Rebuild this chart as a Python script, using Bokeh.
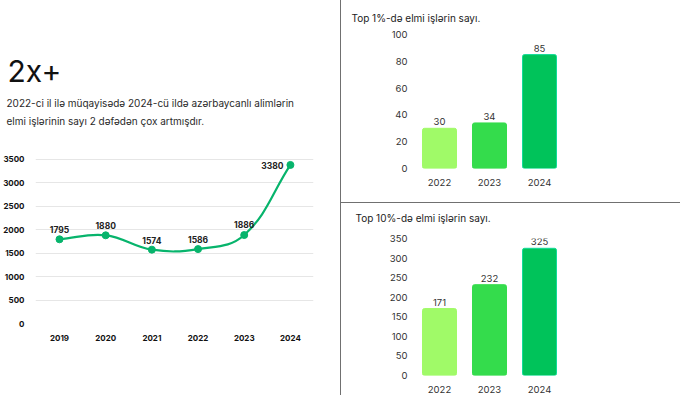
import math
from bokeh.plotting import figure
from bokeh.models import (ColumnDataSource, Range1d, FactorRange, FixedTicker,
                          LabelSet, Label, Title)
from bokeh.layouts import row, column
from bokeh.core.properties import value
from bokeh.embed import file_html
from bokeh.resources import INLINE

# ---------------- data ----------------
line_years = [2019, 2020, 2021, 2022, 2023, 2024]
line_values = [1795, 1880, 1574, 1586, 1886, 3380]
line_yticks = [0, 500, 1000, 1500, 2000, 2500, 3000, 3500]

bar_years = ["2022", "2023", "2024"]
top1_values = [30, 34, 85]
top1_ticks = [0, 20, 40, 60, 80, 100]
top10_values = [171, 232, 325]
top10_ticks = [0, 50, 100, 150, 200, 250, 300, 350]
bar_colors = ["#a0fa68", "#34dc4c", "#00c35a"]
bar_borders = ["#a0fa68", "#34dc4c", "#10dc98"]

headline = "2x+"
para_lines = ["2022-ci il ilə müqayisədə 2024-cü ildə azərbaycanlı alimlərin",
              "elmi işlərinin sayı 2 dəfədən çox artmışdır."]
title_top1 = "Top 1%-də elmi işlərin sayı."
title_top10 = "Top 10%-də elmi işlərin sayı."

FONT = "Inter"
GREEN = "#07b46c"
TXT = "#2a2a2a"
DIV = "#707070"


def spacer(p, gap):
    p.add_layout(Title(text=" ", text_font_size="1px", standoff=gap), "above")


# ---------------- left: line chart ----------------
p0 = figure(width=340, height=395, output_backend="svg", toolbar_location=None,
            x_range=Range1d(2018.48, 2024.5), y_range=Range1d(0, 3560),
            min_border_left=33, min_border_right=27, min_border_top=156,
            min_border_bottom=72, title=None)
p0.outline_line_color = None
p0.background_fill_color = "white"
p0.border_fill_color = "white"
p0.xgrid.grid_line_color = None
p0.ygrid.grid_line_color = "#e6e6e6"
p0.ygrid.ticker = FixedTicker(ticks=line_yticks)
for ax in (p0.xaxis[0], p0.yaxis[0]):
    ax.axis_line_color = None
    ax.major_tick_line_color = None
    ax.minor_tick_line_color = None
    ax.major_label_text_font = FONT
    ax.major_label_text_font_size = "8px"
    ax.major_label_text_font_style = "bold"
    ax.major_label_text_color = "#111111"
p0.xaxis[0].ticker = FixedTicker(ticks=line_years)
p0.yaxis[0].ticker = FixedTicker(ticks=line_yticks)
p0.xaxis[0].major_label_standoff = 5
p0.yaxis[0].major_label_standoff = 5

# smooth curve (cubic bezier segments through the data points)
sx, sy, t = 46.6, 164 / 3500, 0.4
n = len(line_years)
prev_cp, next_cp = [], []
for i in range(n):
    cx, cy = line_years[i], line_values[i]
    px, py = (line_years[i - 1], line_values[i - 1]) if i > 0 else (cx, cy)
    nx, ny = (line_years[i + 1], line_values[i + 1]) if i < n - 1 else (cx, cy)
    d01 = math.hypot((cx - px) * sx, (cy - py) * sy)
    d12 = math.hypot((nx - cx) * sx, (ny - cy) * sy)
    tot = d01 + d12
    fa = t * d01 / tot
    fb = t * d12 / tot
    prev_cp.append((cx - fa * (nx - px), cy - fa * (ny - py)))
    next_cp.append((cx + fb * (nx - px), cy + fb * (ny - py)))

seg = ColumnDataSource(dict(
    x0=line_years[:-1], y0=line_values[:-1],
    x1=line_years[1:], y1=line_values[1:],
    cx0=[c[0] for c in next_cp[:-1]], cy0=[c[1] for c in next_cp[:-1]],
    cx1=[c[0] for c in prev_cp[1:]], cy1=[c[1] for c in prev_cp[1:]],
))
p0.bezier(x0="x0", y0="y0", x1="x1", y1="y1", cx0="cx0", cy0="cy0",
          cx1="cx1", cy1="cy1", source=seg, line_color=GREEN, line_width=2.2)
pts = ColumnDataSource(dict(x=line_years, y=line_values,
                            lab=[str(v) for v in line_values]))
p0.scatter("x", "y", source=pts, size=7, color=GREEN)

lab_src = ColumnDataSource(dict(x=line_years[:4], y=line_values[:4],
                                lab=[str(v) for v in line_values[:4]]))
p0.add_layout(LabelSet(x="x", y="y", text="lab", source=lab_src, y_offset=6,
                       text_align="center", text_baseline="alphabetic",
                       text_font=value(FONT), text_font_size="8.5px",
                       text_font_style="bold", text_color="#222222"))
p0.add_layout(Label(x=line_years[4], y=line_values[4], text=str(line_values[4]),
                    y_offset=11, text_align="center", text_baseline="alphabetic",
                    text_font=FONT, text_font_size="8.5px",
                    text_font_style="bold", text_color="#222222"))
p0.add_layout(Label(x=line_years[5], y=line_values[5], text=str(line_values[5]),
                    x_offset=-18, y_offset=-1, text_align="center",
                    text_baseline="alphabetic",
                    text_font=FONT, text_font_size="8.5px",
                    text_font_style="bold", text_color="#222222"))

# texts above the chart (stacked outward from the frame)
spacer(p0, 26)
p0.add_layout(Title(text=para_lines[1], align="left", offset=-29, standoff=2,
                    text_font=FONT, text_font_size="10px",
                    text_font_style="normal", text_color=TXT), "above")
p0.add_layout(Title(text=para_lines[0], align="left", offset=-29, standoff=5,
                    text_font=FONT, text_font_size="10px",
                    text_font_style="normal", text_color=TXT), "above")
p0.add_layout(Title(text=headline, align="left", offset=-28, standoff=8,
                    text_font=FONT, text_font_size="30px",
                    text_font_style="normal", text_color="#111111"), "above")


# ---------------- right: bar charts ----------------
def bar_chart(vals, ticks, ymax, title, h, mb_left, mb_right, mb_top, mb_bottom,
              title_off, title_gap, styles):
    p = figure(width=340, height=h, output_backend="svg", toolbar_location=None,
               x_range=FactorRange(factors=bar_years),
               y_range=Range1d(0, ymax), title=None,
               min_border_left=mb_left, min_border_right=mb_right,
               min_border_top=mb_top, min_border_bottom=mb_bottom)
    p.outline_line_color = None
    p.background_fill_color = "white"
    p.border_fill_color = "white"
    p.xgrid.grid_line_color = None
    p.ygrid.grid_line_color = None
    for ax in (p.xaxis[0], p.yaxis[0]):
        ax.axis_line_color = None
        ax.major_tick_line_color = None
        ax.minor_tick_line_color = None
        ax.major_label_text_font = FONT
        ax.major_label_text_font_size = "9.5px"
        ax.major_label_text_color = "#333333"
    p.yaxis[0].ticker = FixedTicker(ticks=ticks)
    p.yaxis[0].major_label_standoff = 1
    p.xaxis[0].major_label_standoff = 4
    src = ColumnDataSource(dict(x=bar_years, top=vals, color=bar_colors,
                                border=bar_borders,
                                lab=[str(v) for v in vals]))
    p.vbar(x="x", top="top", width=0.68, source=src, fill_color="color",
           line_color="border", line_width=1, border_radius=2)
    p.add_layout(LabelSet(x="x", y="top", text="lab", source=src, y_offset=3,
                          text_align="center", text_baseline="bottom",
                          text_font=value(FONT), text_font_size="9.5px",
                          text_color="#333333"))
    spacer(p, title_gap)
    p.add_layout(Title(text=title, align="left", offset=title_off,
                       standoff=8, text_font=FONT,
                       text_font_size="10px", text_font_style="normal",
                       text_color="#222222"), "above")
    p.styles = styles
    return p


p1 = bar_chart(top1_values, top1_ticks, 100, title_top1, 203,
               73, 117, 34, 35, -63, 4,
               {"border-left": f"1px solid {DIV}",
                "border-bottom": f"1px solid {DIV}"})
p2 = bar_chart(top10_values, top10_ticks, 350, title_top10, 192,
               70, 116, 35, 17, -59, 8,
               {"border-left": f"1px solid {DIV}"})

layout = row(p0, column(p1, p2))
open("out.html", "w").write(file_html(layout, INLINE))
